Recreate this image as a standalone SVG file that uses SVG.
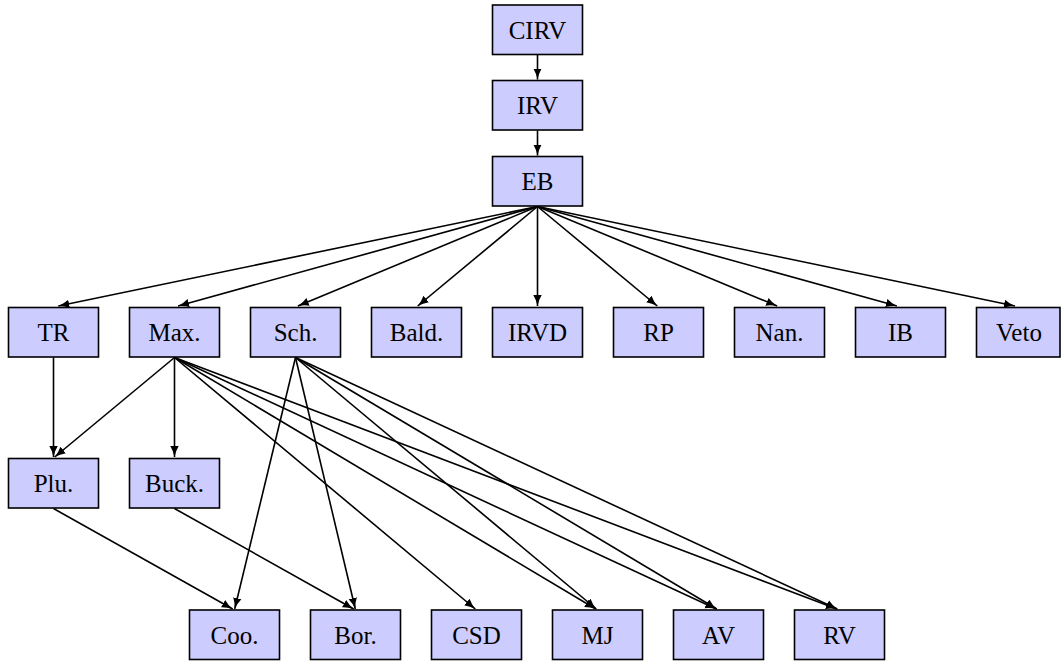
<svg xmlns="http://www.w3.org/2000/svg" width="1062" height="662" viewBox="0 0 1062 662">
<style>
.n rect{fill:#ccccff;stroke:#000;stroke-width:1.6}
.n text{font-family:"Liberation Serif","Times New Roman",serif;font-size:25px;fill:#000;text-anchor:middle}
.e line{stroke:#000;stroke-width:1.6;fill:none;marker-end:url(#ah)}
</style>
<defs>
<marker id="ah" markerUnits="userSpaceOnUse" markerWidth="14" markerHeight="12" viewBox="0 -6 14 12" refX="11" refY="0" orient="auto">
<path d="M0,-4.2 Q5,-1.2 11,0 Q5,1.2 0,4.2 z" fill="#000"/>
</marker>
</defs>
<g class="e" id="connectors">
<line x1="537.5" y1="55" x2="537.5" y2="79.5"/>
<line x1="537.5" y1="130.5" x2="537.5" y2="155.5"/>
<line x1="537.5" y1="206.5" x2="58.3" y2="306"/>
<line x1="537.5" y1="206.5" x2="178.1" y2="306"/>
<line x1="537.5" y1="206.5" x2="297.9" y2="306"/>
<line x1="537.5" y1="206.5" x2="417.7" y2="306"/>
<line x1="537.5" y1="206.5" x2="537.5" y2="306"/>
<line x1="537.5" y1="206.5" x2="657.3" y2="306"/>
<line x1="537.5" y1="206.5" x2="777.1" y2="306"/>
<line x1="537.5" y1="206.5" x2="896.9" y2="306"/>
<line x1="537.5" y1="206.5" x2="1015" y2="306"/>
<line x1="53.5" y1="357.5" x2="53.5" y2="457"/>
<line x1="174.5" y1="357.5" x2="54.7" y2="457"/>
<line x1="174.5" y1="357.5" x2="174.5" y2="457"/>
<line x1="174.5" y1="357.5" x2="475.3" y2="609"/>
<line x1="174.5" y1="357.5" x2="595.8" y2="609"/>
<line x1="174.5" y1="357.5" x2="716.3" y2="609"/>
<line x1="174.5" y1="357.5" x2="836.9" y2="609"/>
<line x1="295.5" y1="357.5" x2="234.7" y2="609"/>
<line x1="295.5" y1="357.5" x2="355.3" y2="609"/>
<line x1="295.5" y1="357.5" x2="596.3" y2="609"/>
<line x1="295.5" y1="357.5" x2="716.8" y2="609"/>
<line x1="295.5" y1="357.5" x2="837.3" y2="609"/>
<line x1="53.5" y1="508.5" x2="232.7" y2="609"/>
<line x1="174.5" y1="508.5" x2="353.7" y2="609"/>
</g>
<g class="n" id="CIRV"><rect x="492.5" y="5" width="90" height="49.5"/><text x="537.5" y="38.5">CIRV</text></g>
<g class="n" id="IRV"><rect x="492.5" y="80.5" width="90" height="49.5"/><text x="537.5" y="114">IRV</text></g>
<g class="n" id="EB"><rect x="492.5" y="156.5" width="90" height="49.5"/><text x="537.5" y="190">EB</text></g>
<g class="n" id="TR"><rect x="8.5" y="307.5" width="90" height="49.5"/><text x="53.5" y="341">TR</text></g>
<g class="n" id="Max"><rect x="129.5" y="307.5" width="90" height="49.5"/><text x="174.5" y="341">Max.</text></g>
<g class="n" id="Sch"><rect x="250.5" y="307.5" width="90" height="49.5"/><text x="295.5" y="341">Sch.</text></g>
<g class="n" id="Bald"><rect x="371.5" y="307.5" width="90" height="49.5"/><text x="416.5" y="341">Bald.</text></g>
<g class="n" id="IRVD"><rect x="492.5" y="307.5" width="90" height="49.5"/><text x="537.5" y="341">IRVD</text></g>
<g class="n" id="RP"><rect x="613.5" y="307.5" width="90" height="49.5"/><text x="658.5" y="341">RP</text></g>
<g class="n" id="Nan"><rect x="734.5" y="307.5" width="90" height="49.5"/><text x="779.5" y="341">Nan.</text></g>
<g class="n" id="IB"><rect x="855.5" y="307.5" width="90" height="49.5"/><text x="900.5" y="341">IB</text></g>
<g class="n" id="Veto"><rect x="976.5" y="307.5" width="83.5" height="49.5"/><text x="1019" y="341">Veto</text></g>
<g class="n" id="Plu"><rect x="8.5" y="458.5" width="90" height="49.5"/><text x="53.5" y="492">Plu.</text></g>
<g class="n" id="Buck"><rect x="129.5" y="458.5" width="90" height="49.5"/><text x="174.5" y="492">Buck.</text></g>
<g class="n" id="Coo"><rect x="189.5" y="610" width="90" height="49.5"/><text x="234.5" y="643.5">Coo.</text></g>
<g class="n" id="Bor"><rect x="310.5" y="610" width="90" height="49.5"/><text x="355.5" y="643.5">Bor.</text></g>
<g class="n" id="CSD"><rect x="431.5" y="610" width="90" height="49.5"/><text x="476.5" y="643.5">CSD</text></g>
<g class="n" id="MJ"><rect x="552.5" y="610" width="90" height="49.5"/><text x="597.5" y="643.5">MJ</text></g>
<g class="n" id="AV"><rect x="673.5" y="610" width="90" height="49.5"/><text x="718.5" y="643.5">AV</text></g>
<g class="n" id="RV"><rect x="794.5" y="610" width="90" height="49.5"/><text x="839.5" y="643.5">RV</text></g>
</svg>
